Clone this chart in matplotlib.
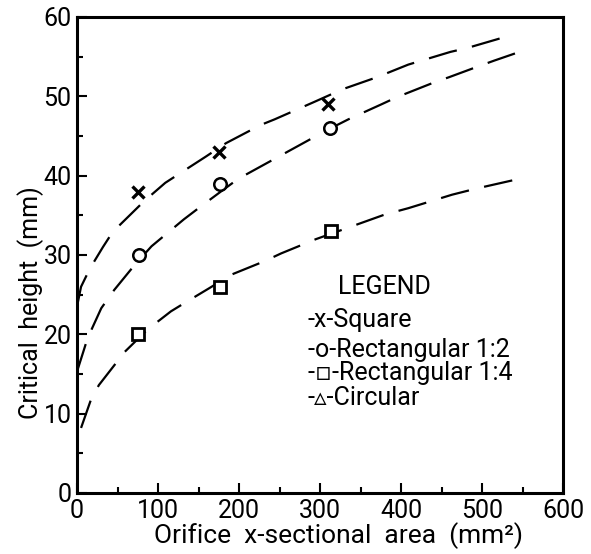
import matplotlib
matplotlib.use('Agg')
import matplotlib.pyplot as plt
from matplotlib.ticker import MultipleLocator

# fuente algo estrecha (Roboto), con respaldo para los simbolos
plt.rcParams['font.family'] = ['Roboto', 'DejaVu Sans']

# --- puntos medidos ---
area_square = [75, 175, 310]
altura_square = [38, 43, 49]
area_rect12 = [77, 176, 312]
altura_rect12 = [30, 39, 46]
area_rect14 = [75, 176, 314]
altura_rect14 = [20, 26, 33]

# --- curvas a trazos ---
curva_square_x = [1, 5, 16, 32, 44, 83, 109, 159, 184, 227, 244, 293, 328, 370, 409, 461, 482, 529]
curva_square_y = [24, 26, 28.3, 31, 32.9, 36.8, 39.1, 42.4, 44.1, 46.4, 47.1, 49.3, 50.9, 52.4, 54.0, 55.6, 56.1, 57.5]
curva_rect12_x = [0, 9, 13, 30, 46, 70, 92, 132, 150, 175, 199, 306, 335, 376, 395, 442, 459, 496, 515, 552]
curva_rect12_y = [15.3, 18.2, 19.5, 23.3, 25.6, 28.6, 31.1, 34.5, 35.9, 37.8, 39.6, 45.6, 47.1, 49.0, 49.9, 51.8, 52.4, 53.8, 54.5, 55.8]
curva_rect14_x = [5, 17, 27, 59, 87, 116, 132, 163, 190, 231, 252, 295, 339, 380, 409, 463, 494, 546]
curva_rect14_y = [8.2, 11.7, 13.6, 17.8, 20.6, 22.9, 23.9, 25.8, 27.5, 29.2, 30.2, 32.0, 33.6, 35.1, 35.9, 37.6, 38.4, 39.6]

leyenda = ['-x-Square', '-o-Rectangular 1:2', '-\u25ab-Rectangular 1:4', '-\u25b5-Circular']

fig = plt.figure(figsize=(5.91, 5.54), dpi=100)
ax = fig.add_axes([77 / 591, 61 / 554, 486 / 591, 476 / 554])

guiones = (13, 7)
for cx, cy in [(curva_square_x, curva_square_y), (curva_rect12_x, curva_rect12_y),
               (curva_rect14_x, curva_rect14_y)]:
    ax.plot(cx, cy, color='black', lw=1.6, dashes=guiones, solid_capstyle='butt')

ax.plot(area_square, altura_square, 'x', color='black', markersize=8, mew=2.4)
ax.plot(area_rect12, altura_rect12, 'o', color='black', mfc='white', markersize=9, mew=1.8)
ax.plot(area_rect14, altura_rect14, 's', color='black', mfc='white', markersize=8, mew=2.0)

ax.set_xlim(0, 600)
ax.set_ylim(0, 60)
ax.xaxis.set_major_locator(MultipleLocator(100))
ax.xaxis.set_minor_locator(MultipleLocator(50))
ax.yaxis.set_major_locator(MultipleLocator(10))
ax.yaxis.set_minor_locator(MultipleLocator(5))
ax.tick_params(which='both', direction='in', width=1.5, labelsize=18, top=False, right=False)
ax.tick_params(which='major', length=7, pad=4)
ax.tick_params(which='minor', length=4)
for lado in ax.spines.values():
    lado.set_linewidth(2.2)

ax.set_xlabel('Orifice  x-sectional  area  (mm\u00b2)', fontsize=19)
ax.set_ylabel('Critical  height  (mm)', fontsize=18)
ax.xaxis.set_label_coords(0.539, -0.062)
ax.yaxis.set_label_coords(-0.068, 0.40)

ax.text(0.537, 0.433, 'LEGEND', transform=ax.transAxes, fontsize=18, va='center', ha='left')
for texto, yy in zip(leyenda, [0.363, 0.300, 0.252, 0.200]):
    ax.text(0.475, yy, texto, transform=ax.transAxes, fontsize=18, va='center', ha='left')

fig.savefig('out.png', dpi=100)
